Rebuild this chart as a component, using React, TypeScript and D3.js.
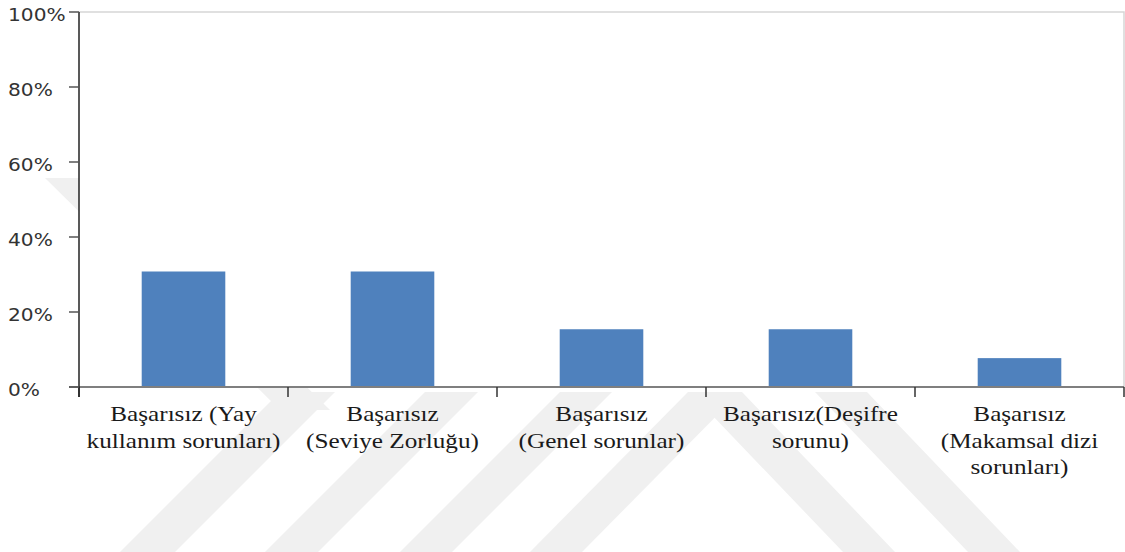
import { useEffect, useRef } from 'react'
import * as d3 from 'd3'

// Chart data
const categories = [
  'Başarısız (Yay kullanım sorunları)',
  'Başarısız (Seviye Zorluğu)',
  'Başarısız (Genel sorunlar)',
  'Başarısız(Deşifre sorunu)',
  'Başarısız (Makamsal dizi sorunları)',
]
const categoryLines = [
  ['Başarısız (Yay', 'kullanım sorunları)'],
  ['Başarısız', '(Seviye Zorluğu)'],
  ['Başarısız', '(Genel sorunlar)'],
  ['Başarısız(Deşifre', 'sorunu)'],
  ['Başarısız', '(Makamsal dizi', 'sorunları)'],
]
const values = [0.308, 0.308, 0.154, 0.154, 0.077]
const yTicks = [0, 0.2, 0.4, 0.6, 0.8, 1]
const yTickLabels = ['0%', '20%', '40%', '60%', '80%', '100%']

const WIDTH = 1125
const HEIGHT = 552

const App = () => {
  const svgRef = useRef<SVGSVGElement>(null)

  useEffect(() => {
    const plot = { left: 79, right: 1124, top: 12, bottom: 387 }

    const xScale = d3
      .scaleBand<string>()
      .domain(categories)
      .range([plot.left, plot.right])
      .paddingInner(0.6)
      .paddingOuter(0.3)
    const yScale = d3.scaleLinear().domain([0, 1]).range([plot.bottom, plot.top])

    const svgEl = d3.select(svgRef.current)
    svgEl.selectAll('*').remove()
    const svg = svgEl.append('g')

    svg.append('rect').attr('width', WIDTH).attr('height', HEIGHT).attr('fill', '#fff')

    // faint watermark stripes behind the chart
    const stripes = [
      [[45, 178], [95, 178], [330, 410], [280, 410]],
      [[280, 392], [335, 392], [175, 552], [120, 552]],
      [[425, 392], [478, 392], [318, 552], [265, 552]],
      [[560, 392], [612, 392], [452, 552], [400, 552]],
      [[688, 392], [740, 392], [582, 552], [530, 552]],
      [[690, 392], [742, 392], [895, 552], [843, 552]],
      [[815, 392], [867, 392], [1020, 552], [968, 552]],
    ]
    svg
      .selectAll('.stripe')
      .data(stripes)
      .enter()
      .append('polygon')
      .attr('points', (d) => d.map((p) => p.join(',')).join(' '))
      .attr('fill', '#f0f0f0')

    // plot area with light border on top and right
    svg
      .append('rect')
      .attr('x', plot.left)
      .attr('y', plot.top)
      .attr('width', plot.right - plot.left)
      .attr('height', plot.bottom - plot.top)
      .attr('fill', '#fff')
    svg
      .append('path')
      .attr('d', `M${plot.left},${plot.top}H${plot.right}V${plot.bottom}`)
      .attr('fill', 'none')
      .attr('stroke', '#d6d6d6')
      .attr('stroke-width', 1.5)

    // bars
    svg
      .selectAll('.bar')
      .data(values)
      .enter()
      .append('rect')
      .attr('x', (d, i) => xScale(categories[i]) as number)
      .attr('y', (d) => yScale(d))
      .attr('width', xScale.bandwidth())
      .attr('height', (d) => yScale(0) - yScale(d))
      .attr('fill', '#4f81bd')

    // x axis line and category ticks
    svg
      .append('line')
      .attr('x1', plot.left - 10)
      .attr('x2', plot.right)
      .attr('y1', yScale(0))
      .attr('y2', yScale(0))
      .attr('stroke', '#7f7f7f')
      .attr('stroke-width', 2)
    const step = xScale.step()
    const boundaries = d3.range(categories.length + 1).map((i) => plot.left + i * step)
    svg
      .selectAll('.xtick')
      .data(boundaries)
      .enter()
      .append('line')
      .attr('x1', (d) => d)
      .attr('x2', (d) => d)
      .attr('y1', yScale(0))
      .attr('y2', yScale(0) + 10)
      .attr('stroke', '#333')
      .attr('stroke-width', 1.5)

    // y axis
    svg
      .append('line')
      .attr('x1', plot.left)
      .attr('x2', plot.left)
      .attr('y1', plot.top)
      .attr('y2', yScale(0) + 10)
      .attr('stroke', '#222')
      .attr('stroke-width', 1.5)
    svg
      .selectAll('.ytick')
      .data(yTicks)
      .enter()
      .append('line')
      .attr('x1', plot.left - 10)
      .attr('x2', plot.left)
      .attr('y1', (d) => yScale(d))
      .attr('y2', (d) => yScale(d))
      .attr('stroke', '#555')
      .attr('stroke-width', 1.5)
    // labels look slightly stretched horizontally in the reference
    svg
      .selectAll('.ylabel')
      .data(yTicks)
      .enter()
      .append('text')
      .attr('transform', (d) => `translate(8,${yScale(d) + 3}) scale(1.12,1)`)
      .attr('dominant-baseline', 'central')
      .style('font-family', 'DejaVu Sans')
      .style('font-size', '18px')
      .style('fill', '#333')
      .text((d, i) => yTickLabels[i])

    // category labels
    categoryLines.forEach((lines, i) => {
      const cx = (xScale(categories[i]) as number) + xScale.bandwidth() / 2
      svg
        .selectAll(`.clabel-${i}`)
        .data(lines)
        .enter()
        .append('text')
        .attr('transform', (d, j) => `translate(${cx},${414 + j * 26.5}) scale(1.2,1)`)
        .attr('text-anchor', 'middle')
        .attr('dominant-baseline', 'central')
        .style('font-family', 'Liberation Serif')
        .style('font-size', '21px')
        .style('fill', '#1a1a1a')
        .text((d) => d)
    })
  }, [])

  return (
    <svg
      ref={svgRef}
      width={WIDTH}
      height={HEIGHT}
      style={{ position: 'absolute', left: 0, top: 0, display: 'block' }}
    />
  )
}

export default App
